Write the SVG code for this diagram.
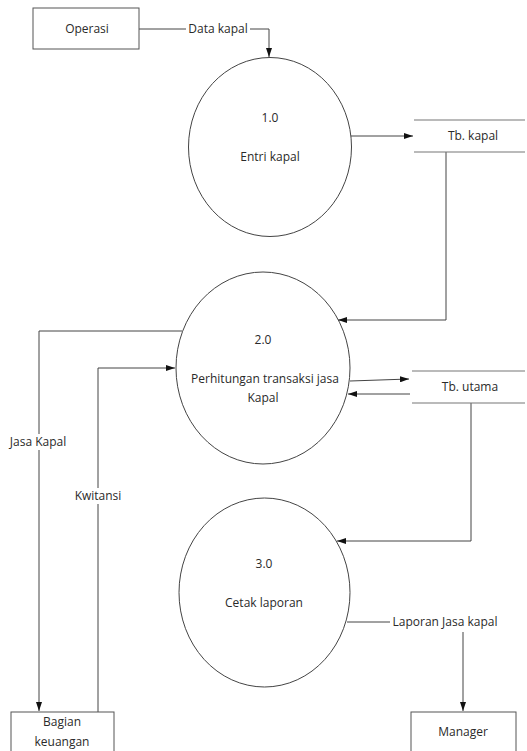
<svg xmlns="http://www.w3.org/2000/svg" width="527" height="751" viewBox="0 0 527 751">
<defs>
<marker id="arr" markerWidth="9" markerHeight="6" refX="9" refY="3" orient="auto" markerUnits="userSpaceOnUse">
<path d="M0,0 L9,3 L0,6 Z" fill="#111"/>
</marker>
</defs>
<style>
.box{fill:#fff;stroke:#555;stroke-width:1}
.proc{fill:#fff;stroke:#444;stroke-width:1}
.store{stroke:#777;stroke-width:1.2;fill:none}
.ln{fill:none;stroke:#444;stroke-width:1}
.ar{fill:none;stroke:#444;stroke-width:1;marker-end:url(#arr)}
text{font-family:"Open Sans","Liberation Sans",sans-serif;font-size:12px;fill:#2a2a2a;text-anchor:middle}
.lbl{fill:#fff;stroke:none}
</style>
<rect width="527" height="751" fill="#fff"/>
<g id="connectors">
<polyline class="ar" points="139,29 269,29 269,57"/>
<rect class="lbl" x="186" y="21" width="64" height="16"/>
<text x="218" y="33">Data kapal</text>
<line class="ar" x1="351" y1="136" x2="413" y2="136"/>
<polyline class="ar" points="446,152 446,320 338,320"/>
<polyline class="ar" points="182,331 39,331 39,711"/>
<rect class="lbl" x="5" y="434" width="66" height="16"/>
<text x="38" y="446">Jasa Kapal</text>
<polyline class="ar" points="98,712 98,368 175,368"/>
<rect class="lbl" x="70" y="488" width="56" height="16"/>
<text x="98" y="500">Kwitansi</text>
<line class="ar" x1="350" y1="381" x2="409" y2="379"/>
<line class="ar" x1="410" y1="394" x2="348" y2="394"/>
<polyline class="ar" points="471,403 471,541 337,541"/>
<line class="ln" x1="347" y1="622" x2="390" y2="622"/>
<text x="445" y="626">Laporan Jasa kapal</text>
<line class="ar" x1="463" y1="632" x2="463" y2="711"/>
</g>
<g id="operasi">
<rect class="box" x="33" y="8" width="106" height="41"/>
<text x="87" y="33">Operasi</text>
</g>
<g id="p1">
<ellipse class="proc" cx="270" cy="147" rx="81.5" ry="89.5"/>
<text x="270" y="122">1.0</text>
<text x="270" y="161">Entri kapal</text>
</g>
<g id="tb-kapal">
<line class="store" x1="414" y1="120" x2="525" y2="120"/>
<line class="store" x1="414" y1="152" x2="525" y2="152"/>
<text x="473" y="140">Tb. kapal</text>
</g>
<g id="p2">
<ellipse class="proc" cx="263" cy="368" rx="87" ry="96"/>
<text x="263" y="344">2.0</text>
<text x="265" y="383">Perhitungan transaksi jasa</text>
<text x="263" y="402">Kapal</text>
</g>
<g id="tb-utama">
<line class="store" x1="412" y1="371" x2="525" y2="371"/>
<line class="store" x1="412" y1="403" x2="525" y2="403"/>
<text x="470" y="391">Tb. utama</text>
</g>
<g id="p3">
<ellipse class="proc" cx="264.5" cy="592.5" rx="85.5" ry="94.5"/>
<text x="264" y="568">3.0</text>
<text x="264" y="607">Cetak laporan</text>
</g>
<g id="bagian-keuangan">
<rect class="box" x="11" y="712" width="103" height="50"/>
<text x="62" y="726">Bagian</text>
<text x="62" y="746">keuangan</text>
</g>
<g id="manager">
<rect class="box" x="411" y="712" width="105" height="50"/>
<text x="463" y="736">Manager</text>
</g>
</svg>
